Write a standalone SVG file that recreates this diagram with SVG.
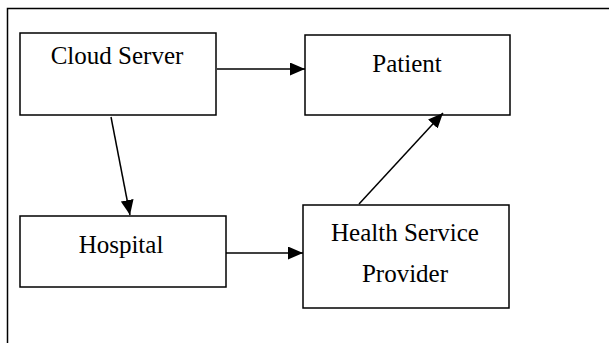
<svg xmlns="http://www.w3.org/2000/svg" width="609" height="343" viewBox="0 0 609 343">
<style>
.box{fill:#fff;stroke:#000;stroke-width:1.5}
.lbl{font-family:"Liberation Serif","Times New Roman",serif;font-size:25px;fill:#000;text-anchor:middle}
.con{stroke:#000;stroke-width:1.5;fill:none;marker-end:url(#ah)}
</style>
<defs>
<marker id="ah" viewBox="0 0 15 13" refX="15" refY="6.5" markerWidth="15" markerHeight="13" markerUnits="userSpaceOnUse" orient="auto">
<path d="M0,0 L15,6.5 L0,13 Z" fill="#000"/>
</marker>
</defs>
<rect x="0" y="0" width="609" height="343" fill="#fff"/>
<path d="M7.5,345 V8.5 H612" fill="none" stroke="#000" stroke-width="1.5"/>
<g id="cloud"><rect class="box" x="20" y="33" width="196" height="82"/><text class="lbl" x="117" y="64">Cloud Server</text></g>
<g id="patient"><rect class="box" x="305" y="35" width="205" height="80"/><text class="lbl" x="407" y="72">Patient</text></g>
<g id="hospital"><rect class="box" x="20" y="216" width="206" height="71"/><text class="lbl" x="121" y="253">Hospital</text></g>
<g id="hsp"><rect class="box" x="303" y="205" width="206" height="103"/><text class="lbl" x="405" y="241">Health Service</text><text class="lbl" x="405" y="282">Provider</text></g>
<g id="connectors">
<line class="con" x1="217" y1="69" x2="305" y2="69"/>
<line class="con" x1="111" y1="117" x2="130" y2="215"/>
<line class="con" x1="226" y1="253" x2="303" y2="253"/>
<line class="con" x1="359" y1="204" x2="443" y2="113"/>
</g>
</svg>
